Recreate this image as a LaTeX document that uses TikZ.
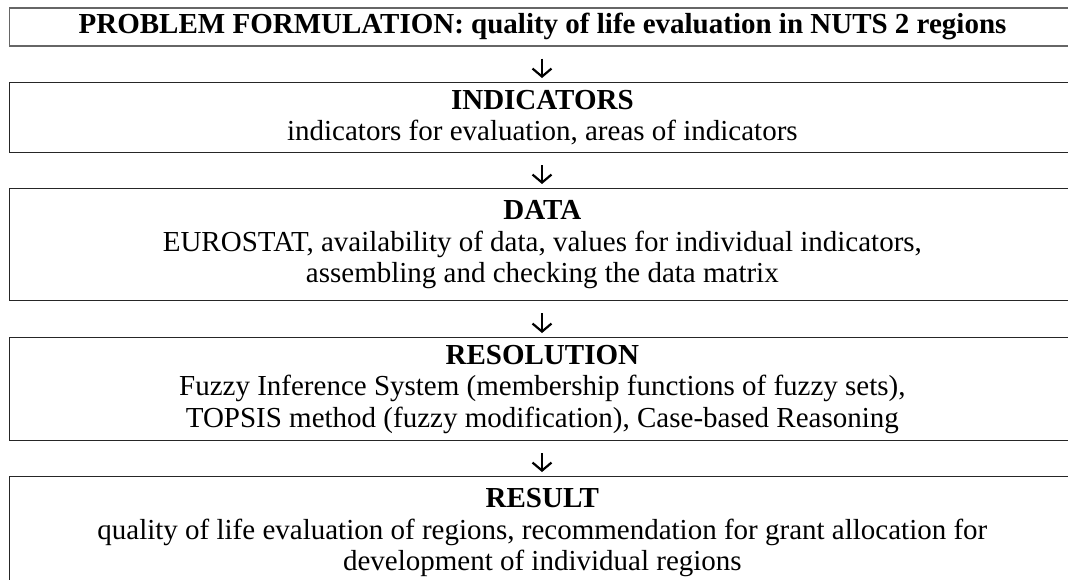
\documentclass[tikz,border=0pt]{standalone}
\usepackage{fontspec}
\setmainfont{Liberation Serif}
\usetikzlibrary{arrows.meta}
\tikzset{
  stagebox/.style={draw=black!85, line width=1.2pt, rectangle, anchor=north west,
    minimum width=1066.5pt, inner sep=1pt, align=center,
    font=\fontsize{29}{31.5}\selectfont},
  titlebox/.style={stagebox, draw=black!60, line width=1.6pt},
  flowarrow/.style={line width=2.2pt, -{Straight Barb[length=8pt,width=19pt,line width=2.2pt]},
    shorten <=12pt, shorten >=4pt}
}
\begin{document}
\begin{tikzpicture}[x=1pt,y=-1pt]
\useasboundingbox (0,0) rectangle (1068,579);
\fill[white] (0,0) rectangle (1068,579);
\node[titlebox, minimum height=38pt] (b1) at (8.5,7) {\textbf{PROBLEM FORMULATION: quality of life evaluation in NUTS 2 regions}};
\node[stagebox, minimum height=70pt] (b2) at (8.5,82) {\textbf{INDICATORS}\\ indicators for evaluation, areas of indicators};
\node[stagebox, minimum height=112pt] (b3) at (8.5,188) {\textbf{DATA}\\ EUROSTAT, availability of data, values for individual indicators,\\ assembling and checking the data matrix};
\node[stagebox, minimum height=103pt] (b4) at (8.5,337) {\textbf{RESOLUTION}\\ Fuzzy Inference System (membership functions of fuzzy sets),\\ TOPSIS method (fuzzy modification), Case-based Reasoning};
\node[stagebox, minimum height=112pt] (b5) at (8.5,476) {\textbf{RESULT}\\ quality of life evaluation of regions, recommendation for grant allocation for\\ development of individual regions};
\coordinate (ax) at (542,0);
\draw[flowarrow] (b1.south -| ax) -- (b2.north -| ax);
\draw[flowarrow] (b2.south -| ax) -- (b3.north -| ax);
\draw[flowarrow] (b3.south -| ax) -- (b4.north -| ax);
\draw[flowarrow] (b4.south -| ax) -- (b5.north -| ax);
\end{tikzpicture}
\end{document}
